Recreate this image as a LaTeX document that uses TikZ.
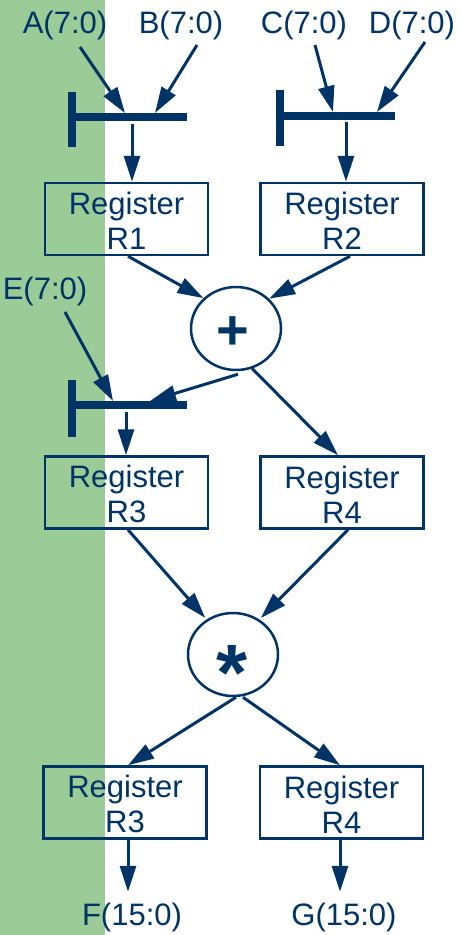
\documentclass[tikz,border=0pt]{standalone}
\usepackage{fontspec}
\setmainfont{Liberation Sans}
\usetikzlibrary{arrows.meta,shapes.geometric}
\definecolor{navy}{RGB}{0,51,102}
\definecolor{band}{RGB}{155,204,152}
\begin{document}
\begin{tikzpicture}[x=1pt,y=-1pt,
  lbl/.style={text=navy,font=\fontsize{31}{35}\selectfont,inner sep=0pt,anchor=base},
  reg/.style={draw=navy,line width=2.5pt,minimum width=163pt,minimum height=72pt,
    text=navy,font=\fontsize{31}{35}\selectfont,align=center,inner sep=0pt,
    text height=61pt},
  op/.style={draw=navy,line width=2.5pt,ellipse,minimum width=90pt,minimum height=83pt,
    fill=white,inner sep=0pt},
  arr/.style={draw=navy,line width=3pt,-{Triangle[length=26pt,width=16pt]}},
  bar/.style={draw=navy,line width=8pt},
]
\useasboundingbox (0,0) rectangle (462,935);
\fill[band] (0,0) rectangle (105,935);

% input / output labels
\node[lbl] (A) at (65,33) {A(7:0)};
\node[lbl] (B) at (181,33) {B(7:0)};
\node[lbl] (C) at (304,33) {C(7:0)};
\node[lbl] (D) at (412,33) {D(7:0)};
\node[lbl] (E) at (45,299) {E(7:0)};
\node[lbl] (F) at (132,925) {F(15:0)};
\node[lbl] (G) at (344,925) {G(15:0)};

% registers
\node[reg] (R1) at (126.5,219) {Register\\R1};
\node[reg] (R2) at (342,219) {Register\\R2};
\node[reg] (R3) at (126.5,492.5) {Register\\R3};
\node[reg] (R4) at (342,492.5) {Register\\R4};
\node[reg] (R5) at (125,802.5) {Register\\R3};
\node[reg] (R6) at (341.5,802.5) {Register\\R4};

% operators
\node[op] (plus) at (236,328.5) {};
\node[text=navy,font=\fontsize{56}{56}\selectfont\bfseries] (plussign) at (233,333) {+};
\node[op] (star) at (233,654.5) {};
\node[text=navy,font=\fontsize{80}{80}\selectfont\bfseries,anchor=base] (starsign) at (232,700) {*};

% multiplexer bars
\draw[bar] (72,92) -- (72,147) (72,117) -- (187,117);
\draw[bar] (280,90) -- (280,146) (280,116) -- (395,116);
\draw[bar] (72,380) -- (72,437) (72,405) -- (187,405);

% connector end points on the bars
\coordinate (a0) at (80,47);   \coordinate (a1) at (125,113);
\coordinate (b0) at (197,45);  \coordinate (b1) at (155,113);
\coordinate (m1) at (132,124);
\coordinate (c0) at (315,45);  \coordinate (c1) at (333,112);
\coordinate (d0) at (425,42);  \coordinate (d1) at (377,112);
\coordinate (m2) at (346,122);
\coordinate (e0) at (65,312);  \coordinate (e1) at (113,401);
\coordinate (p1) at (150,401);
\coordinate (m3) at (126,412);

% inputs into the multiplexers
\draw[arr] (a0) -- (a1);
\draw[arr] (b0) -- (b1);
\draw[arr] (c0) -- (c1);
\draw[arr] (d0) -- (d1);
\draw[arr] (e0) -- (e1);
\draw[arr] ([xshift=2pt,yshift=-3pt]plus.south) -- (p1);

% multiplexers into registers
\draw[arr] (m1) -- (m1 |- R1.north);
\draw[arr] (m2) -- (m2 |- R2.north);
\draw[arr] (m3) -- (m3 |- R3.north);

% datapath
\draw[arr] ([xshift=1.5pt]R1.south) -- (plus.137);
\draw[arr] ([xshift=8pt]R2.south) -- (plus.42);
\draw[arr] (plus.292) -- ([xshift=-4pt]R4.north);
\draw[arr,shorten >=2pt] ([xshift=1.5pt]R3.south) -- (star.127);
\draw[arr,shorten >=2pt] ([xshift=6pt]R4.south) -- (star.53);
\draw[arr] ([xshift=3pt]star.south) -- ([xshift=3pt]R5.north);
\draw[arr] ([xshift=10pt]star.south) -- ([xshift=-1.5pt]R6.north);

% outputs
\draw[arr] ([xshift=3pt]R5.south) -- ([xshift=3pt,yshift=-52pt]R5.south);
\draw[arr] ([xshift=-1.5pt]R6.south) -- ([xshift=-1.5pt,yshift=-52pt]R6.south);
\end{tikzpicture}
\end{document}
